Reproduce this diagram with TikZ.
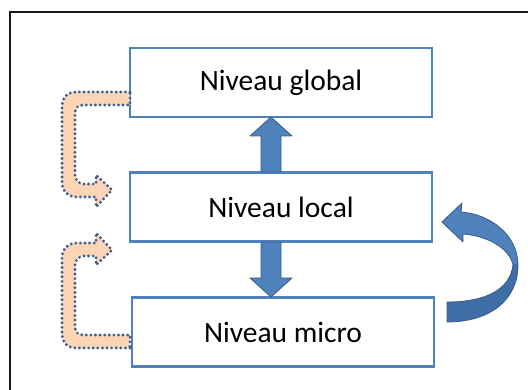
\documentclass[tikz,border=0pt]{standalone}
\usepackage{fontspec}
\setmainfont{Carlito}
\definecolor{boxblue}{HTML}{4F81BD}
\definecolor{darkblue}{HTML}{385D8A}
\definecolor{shadeblue}{HTML}{3F6DA5}
\definecolor{peach}{HTML}{FBD5B5}
\definecolor{dotblue}{HTML}{3A5F8F}
\tikzset{
  levelbox/.style={draw=boxblue, line width=2.4pt, fill=white, minimum width=302pt, minimum height=69pt, inner sep=0pt, font=\fontsize{29.5}{33}\selectfont},
  blockarrow/.style={fill=boxblue, draw=darkblue, line width=0.8pt, line join=round},
  dotarrow/.style={fill=peach, draw=dotblue, line width=3.2pt, line cap=round, dash pattern=on 0pt off 4.6pt}
}
\begin{document}
\begin{tikzpicture}[x=1pt,y=-1pt]
\useasboundingbox (0,0) rectangle (528,390);
\clip (0,0) rectangle (528,390);
% outer frame
\draw[line width=2.2pt, black!90] (10,400) -- (10,12) -- (540,12);
% boxes
\node[levelbox] (global) at (281,82.5) {Niveau global};
\node[levelbox] (local) at (281,207) {Niveau local};
\node[levelbox] (micro) at (283,332) {Niveau micro};
% up arrow
\draw[blockarrow] (261,172) -- (261,136) -- (250,136) -- (271,117) -- (292,136) -- (281,136) -- (281,172) -- cycle;
% down arrow
\draw[blockarrow] (261,242) -- (261,278) -- (250,278) -- (271,297) -- (292,278) -- (281,278) -- (281,242) -- cycle;
% curved arrow on the right (lower, darker part)
\draw[blockarrow, fill=shadeblue] (447,322) .. controls (490,322) and (518,300) .. (518,265)
   -- (513,265) .. controls (510,290) and (485,302) .. (447,302) -- cycle;
% upper part with head
\draw[blockarrow] (518,265) .. controls (518,235) and (490,214) .. (461,212)
   -- (462,203) -- (442,222) -- (463,242) -- (463,234)
   .. controls (490,236) and (510,250) .. (513,265) -- cycle;
% dotted arrows on the left
\draw[dotarrow] (130,92) -- (76,92) .. controls (67,92) and (62,98) .. (62,107)
   -- (62,182) .. controls (62,191) and (68,197) .. (77,197) -- (96,197) -- (96,207)
   -- (112,190) -- (96,175) -- (96,184) -- (84,184) .. controls (79,184) and (75,180) .. (75,175)
   -- (75,113) .. controls (75,108) and (78,105) .. (83,105) -- (130,105) -- cycle;
\draw[dotarrow] (130,348) -- (76,348) .. controls (67,348) and (62,342) .. (62,333)
   -- (62,258) .. controls (62,249) and (68,243) .. (77,243) -- (96,243) -- (96,233)
   -- (112,250) -- (96,265) -- (96,256) -- (84,256) .. controls (79,256) and (75,260) .. (75,265)
   -- (75,327) .. controls (75,332) and (78,335) .. (83,335) -- (130,335) -- cycle;
\end{tikzpicture}
\end{document}
